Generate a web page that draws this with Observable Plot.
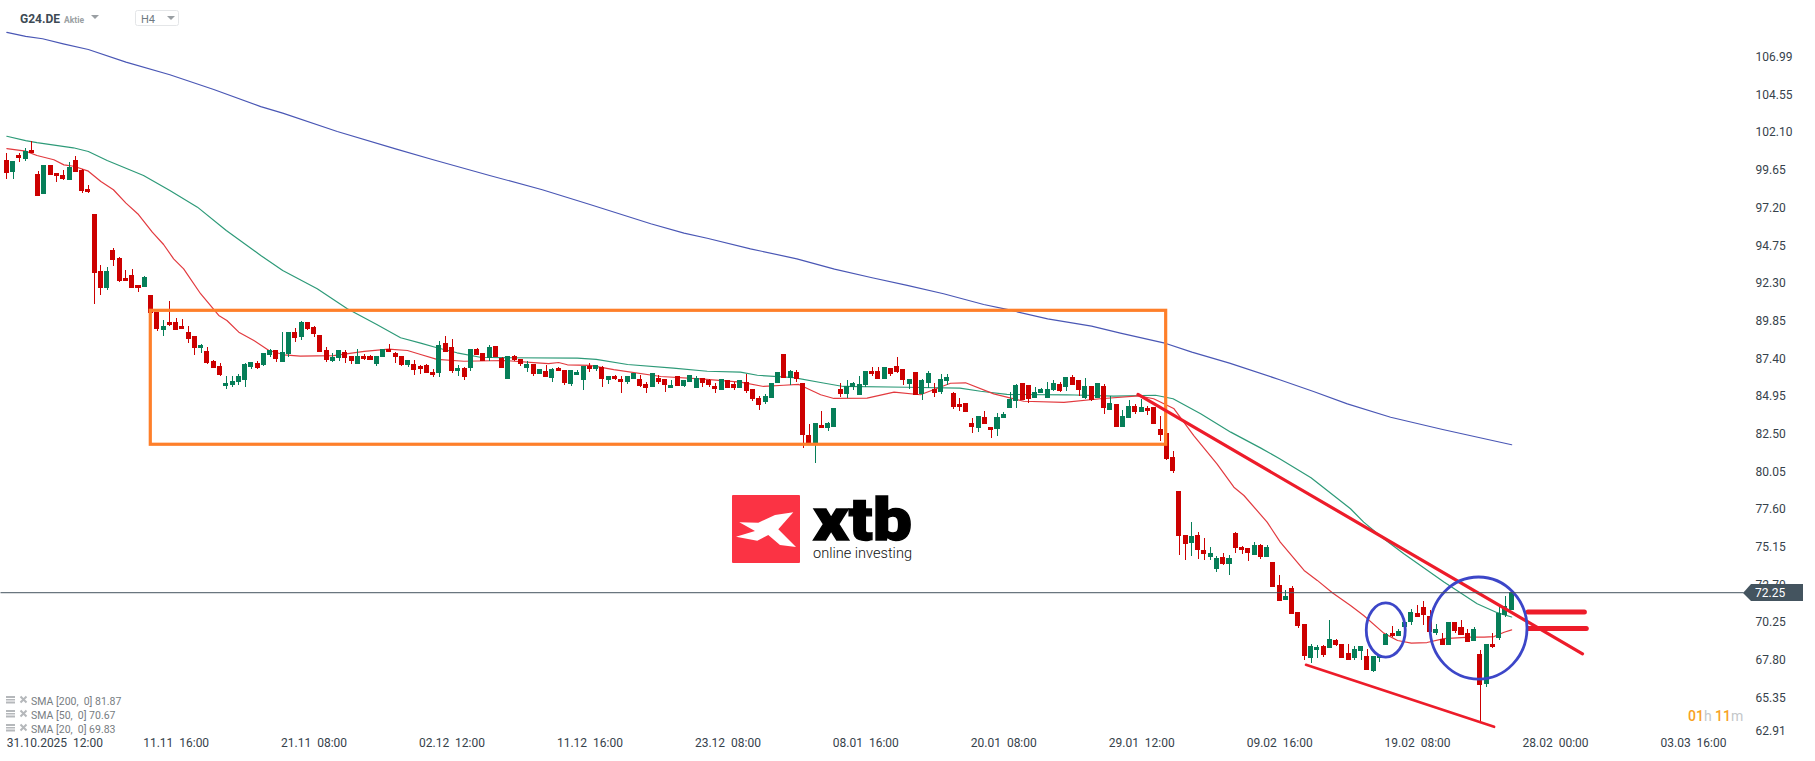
<!DOCTYPE html>
<html>
<head>
<meta charset="utf-8">
<script src="https://cdn.jsdelivr.net/npm/d3@7"></script>
<script src="https://cdn.jsdelivr.net/npm/@observablehq/plot@0.6"></script>
<style>
html,body{margin:0;padding:0;background:#fff}
#wrap{position:relative;width:1815px;height:761px;overflow:hidden;font-family:Roboto,sans-serif}
#wrap>svg{position:absolute;left:0;top:0;overflow:visible}
</style>
</head>
<body>
<div id="wrap"></div>
<script>
// 4-hour candles of G24.DE
const highs = [
100.79,100.29,100.79,101.11,101.61,99.64,100.03,100.03,99.51,99.68,
100.20,100.61,99.75,98.73,96.84,93.53,93.40,94.63,94.03,93.20,
93.27,92.23,92.81,91.58,90.49,89.95,91.19,90.08,90.02,89.56,
88.91,88.39,88.20,87.35,87.16,86.31,86.31,86.44,87.13,87.22,
87.29,87.81,88.04,88.00,89.17,89.17,89.41,89.89,89.82,89.56,
88.98,88.20,87.78,88.00,88.00,87.61,88.07,87.74,87.68,87.61,
88.07,88.39,87.87,87.61,87.35,87.35,87.03,87.09,86.76,88.58,
88.91,88.72,87.03,86.89,88.07,88.13,87.81,88.33,88.26,87.55,
87.61,87.68,87.42,87.29,87.09,86.76,87.03,86.83,86.89,86.70,
86.70,86.70,86.96,87.16,87.03,86.96,86.31,86.37,86.31,86.31,
86.50,86.37,85.92,86.50,86.37,86.11,86.05,86.31,86.05,86.37,
86.31,86.18,86.11,85.85,86.11,86.05,85.92,86.05,86.44,85.46,
85.01,85.14,85.85,86.57,87.74,86.70,86.70,85.85,83.19,83.25,
84.03,83.32,84.23,85.86,86.05,85.92,86.31,86.64,86.90,86.90,
86.90,86.83,87.55,86.77,86.12,86.57,86.12,86.64,85.86,86.44,
86.44,85.27,84.88,84.55,83.58,83.71,84.03,82.99,83.90,83.97,
85.27,85.79,85.86,85.73,85.60,85.53,85.92,86.05,85.92,86.25,
86.38,86.05,86.18,85.66,85.86,85.79,85.01,84.49,84.10,84.75,
84.49,84.82,84.36,84.30,83.71,82.60,81.43,78.83,75.97,76.82,
76.17,75.78,75.19,74.61,74.80,74.67,76.17,75.26,75.13,75.52,
75.39,75.32,74.22,73.37,72.40,72.66,70.97,70.19,68.89,68.82,
68.82,70.45,69.21,68.89,68.89,68.76,68.76,68.56,68.11,68.17,
69.58,70.06,69.86,70.34,71.16,71.42,71.68,71.10,70.19,69.60,
70.32,70.32,70.45,69.86,69.99,68.50,68.89,69.60,71.31,72.01,
72.27];
const opens = [
100.35,99.60,100.68,100.44,101.00,99.44,98.17,100.03,99.51,99.38,
99.08,100.35,99.70,98.47,96.84,93.14,92.05,94.50,93.98,92.68,
92.88,92.23,92.12,91.58,90.49,89.32,89.82,89.82,89.56,89.17,
88.91,88.15,87.94,87.29,86.96,85.66,85.73,85.92,86.07,86.90,
87.16,87.03,87.68,88.00,87.24,87.76,89.17,88.85,89.82,89.50,
88.98,88.00,87.29,87.48,87.87,87.61,87.11,87.61,87.61,87.09,
87.55,88.07,87.81,87.61,87.03,87.09,86.96,87.03,86.57,86.50,
88.45,88.20,86.63,86.83,86.83,88.07,87.81,87.48,88.26,87.48,
86.11,87.61,87.42,86.83,87.09,86.44,86.63,86.18,86.83,86.70,
85.79,86.37,86.05,86.96,86.76,86.89,86.05,86.31,86.11,85.92,
86.11,86.11,85.79,85.59,86.18,86.11,85.53,86.31,85.66,85.92,
85.53,86.18,86.05,85.66,85.40,86.05,85.79,85.53,85.92,85.46,
84.88,84.62,84.88,85.85,87.74,86.18,86.57,85.85,82.47,81.93,
83.12,82.93,82.99,85.47,85.14,85.60,85.08,85.73,86.64,86.64,
86.12,86.83,86.96,86.77,85.79,86.57,85.14,85.86,85.47,85.27,
85.99,85.21,84.49,84.55,83.25,82.93,83.64,82.99,82.86,83.58,
84.23,84.68,85.86,85.73,84.88,85.21,84.88,85.40,85.79,85.60,
86.25,86.05,84.88,85.66,84.88,85.66,84.10,84.49,82.99,83.58,
84.36,83.97,84.23,84.30,82.86,82.60,81.04,78.83,75.97,75.45,
75.97,75.00,74.54,73.76,74.54,74.09,76.10,75.19,75.13,74.67,
75.32,74.54,74.22,72.72,71.75,72.53,70.97,70.19,67.98,68.50,
68.76,68.63,69.15,68.89,68.30,67.98,68.43,68.11,67.13,67.98,
68.82,69.60,69.41,69.99,70.32,70.90,71.29,70.71,69.60,69.21,
68.82,70.32,69.99,69.60,69.08,68.24,66.28,68.89,69.28,70.77,
71.10];
const closes = [
99.53,100.29,100.48,100.96,100.81,98.04,100.03,99.40,99.31,99.12,
99.90,99.60,98.36,98.30,93.03,92.05,93.14,93.87,92.49,92.49,
92.05,92.05,92.75,90.43,89.39,89.56,89.63,89.32,89.39,88.74,
88.15,88.33,87.18,86.85,86.38,85.86,85.99,86.31,87.09,87.22,
86.83,87.81,88.00,87.42,87.87,89.17,88.78,89.82,89.37,89.04,
87.89,87.37,87.55,88.00,87.48,87.29,87.61,87.42,87.35,87.61,
88.07,87.87,87.55,87.03,87.35,86.70,86.77,86.50,86.37,88.33,
87.87,86.63,86.83,86.24,88.07,87.68,87.29,88.20,87.55,86.83,
87.61,87.35,87.09,87.09,86.44,86.76,86.24,86.76,86.63,85.85,
86.70,86.57,86.96,86.76,87.03,86.11,86.31,86.11,85.92,86.31,
86.50,85.66,85.53,86.50,85.92,85.72,85.72,85.66,86.05,86.37,
86.18,85.85,85.72,85.46,86.11,85.53,85.53,86.05,85.33,84.81,
84.42,85.01,85.85,86.57,86.18,86.63,86.11,82.47,81.93,83.25,
82.93,83.25,84.23,85.14,85.66,85.86,85.79,86.64,86.44,86.12,
86.90,86.44,86.57,86.05,86.12,85.08,86.05,86.51,85.21,86.12,
86.25,84.30,84.30,83.97,82.99,83.71,83.19,82.80,83.64,83.84,
84.82,85.73,84.75,84.82,85.27,85.47,85.47,85.86,85.34,86.25,
85.73,85.40,85.66,84.75,85.86,84.23,84.55,82.99,83.71,84.36,
83.97,84.30,84.03,83.19,82.47,80.91,80.13,75.91,75.39,75.91,
75.00,74.74,74.80,74.48,74.09,74.48,75.13,75.00,74.80,75.32,
74.54,75.19,72.59,71.68,72.01,70.84,70.06,68.11,68.76,68.69,
68.17,69.21,68.82,67.98,67.85,68.56,68.76,67.20,68.11,68.17,
69.54,69.41,69.73,70.34,70.97,70.64,70.77,69.67,69.86,68.82,
70.32,69.73,69.47,69.02,69.86,66.22,68.89,68.69,70.90,71.36,
72.25];
const lows = [
99.14,99.14,100.25,100.31,100.81,98.04,98.17,99.40,98.95,99.05,
99.08,99.60,98.23,98.23,91.01,91.60,91.92,93.48,92.44,92.49,
92.05,91.79,92.12,90.43,89.26,88.93,89.56,89.32,89.39,88.48,
87.70,87.83,87.11,86.85,86.33,85.49,85.62,85.73,85.62,86.79,
86.79,86.96,87.57,87.24,87.24,87.57,88.54,88.65,89.32,88.87,
87.89,87.24,87.24,87.31,87.18,87.09,87.11,87.35,87.35,86.96,
87.55,87.87,87.16,86.96,86.90,86.38,86.44,86.50,86.24,86.24,
87.87,86.50,86.31,86.05,86.63,87.68,87.29,87.29,87.55,86.83,
86.11,87.29,86.96,86.57,86.31,86.44,86.24,85.92,86.63,85.72,
85.66,86.37,85.40,86.57,86.63,85.59,85.79,86.05,85.20,85.79,
86.11,85.59,85.20,85.59,85.79,85.27,85.53,85.66,85.59,85.92,
85.53,85.59,85.59,85.20,85.40,85.53,85.40,85.53,85.20,84.68,
84.10,84.49,84.88,85.85,86.18,85.72,85.92,81.63,81.89,80.65,
82.93,82.73,82.99,84.95,84.88,85.40,85.08,85.60,86.31,86.12,
86.12,86.31,86.51,85.73,85.47,85.08,84.75,85.53,84.95,85.14,
85.73,84.17,84.03,83.97,82.60,82.67,83.19,82.28,82.41,83.58,
84.23,84.23,84.75,84.55,84.88,85.21,84.88,85.34,85.27,85.34,
85.73,85.01,84.82,84.68,84.88,83.84,84.10,82.99,82.99,83.58,
83.84,83.97,83.77,83.19,82.08,80.85,80.00,74.67,74.35,74.61,
74.41,74.35,74.35,73.57,74.02,73.37,74.80,74.74,74.28,74.67,
74.41,74.54,72.59,71.68,71.75,70.84,69.93,67.85,67.65,67.98,
68.04,68.63,68.76,67.98,67.85,67.85,67.85,67.20,67.07,67.72,
68.82,69.34,69.41,69.99,70.12,70.64,70.12,69.67,69.47,68.82,
68.82,69.60,69.47,69.02,69.08,63.86,66.09,68.63,69.15,70.64,
71.10];

// moving averages, sampled by eye along each curve (candle number, price)
const sma200Idx = [0,3,5.7,9,13,19,26,33,40.5,44,52.7,62,68,77,85.4,93,102.7,108,111.7,118.6,126,132,138,143.6,149.4,155.8,159.5,166,173,177.6,184.5,189,195,203,208.4,213.8,220.7,229,240];
const sma200 = [108.68,108.42,108.27,107.94,107.57,106.75,105.93,104.97,103.86,103.43,102.24,101.11,100.40,99.38,98.45,97.49,96.24,95.63,95.30,94.61,93.96,93.29,92.73,92.23,91.69,90.99,90.67,90.06,89.58,89.13,88.50,87.89,87.18,86.10,85.33,84.53,83.66,82.86,81.87];
const sma50Idx = [0,3,4.8,10.6,13,16,21.8,26,30.4,35,40.5,44,49.5,54.3,59,62.8,66,68.6,71.8,75.5,79.2,91,94,99,106.3,111.7,117,119.7,125.5,130,133.4,143.6,152,155.3,159.5,169,176.5,183.2,186,190.4,195.2,200,203,208,214.3,216.4,219.6,222.8,229.2,234.5,237.7,240];
const sma50 = [101.93,101.65,101.52,101.18,100.94,100.35,99.38,98.40,97.32,95.80,94.18,93.20,92.01,90.71,89.69,88.83,88.48,88.18,87.85,87.56,87.53,87.50,87.42,87.09,86.85,86.65,86.59,86.39,86.23,85.90,85.66,85.61,85.55,85.35,85.14,85.12,85.03,85.09,84.86,83.88,82.69,81.65,80.96,79.72,77.71,76.84,75.76,74.78,72.94,71.53,70.95,70.67];
const sma20Idx = [0,3,4.8,7.5,9.1,10.7,13,15,17,19,21,23.2,25,26.6,28.2,30.9,33.8,35.1,37,39.4,41.8,44.2,46.8,52.1,57,60.9,63.9,66,68.6,72.9,79.3,84.6,86.4,88,89.4,93,96.8,104.3,110.6,117,120.7,123.9,126.3,129.8,131.9,137.2,141.5,145.7,150.5,152.9,157.4,162.2,168.6,174.4,180.5,182.9,186.1,189.3,193,195.7,197.3,201,203.1,206.9,209,211.4,214.3,216.4,219.6,221.8,224,226.5,229.2,233.4,235.6,237.2,238.8,240];
const sma20 = [101.13,100.96,100.68,100.40,100.07,99.98,99.66,98.99,98.45,97.58,96.84,95.69,94.89,93.96,93.31,91.69,90.28,89.95,89.19,88.65,88.00,87.72,87.63,87.66,87.94,88.09,88.00,87.74,87.42,87.30,87.35,87.20,87.14,87.22,87.07,87.03,86.75,86.31,86.16,85.94,85.66,85.74,85.79,85.12,84.88,84.90,85.29,85.12,85.87,85.90,85.18,84.70,84.62,84.86,85.05,84.86,84.23,82.47,80.63,79.11,78.57,76.84,75.54,73.70,73.05,72.25,71.42,70.77,69.62,69.14,68.97,69.01,69.26,69.36,69.36,69.40,69.68,69.83];

// axes
const priceTicks = [106.99,104.55,102.10,99.65,97.20,94.75,92.30,89.85,87.40,84.95,82.50,80.05,77.60,75.15,72.70,70.25,67.80,65.35];
const lowestTick = [62.91];
const timeTickIdx = [27,49,71,93,115,137,159,181,203,225,247,269];
const timeTickLabels = ["11.11  16:00","21.11  08:00","02.12  12:00","11.12  16:00","23.12  08:00","08.01  16:00","20.01  08:00","29.01  12:00","09.02  16:00","19.02  08:00","28.02  00:00","03.03  16:00"];
const firstTickLabel = "31.10.2025  12:00";

// hand-drawn annotations
const boxI = [22.96,184.9], boxP = [81.87,90.58];
const resistance = [{i:180.4,p:85.14},{i:251.3,p:68.28}];
const support = [{i:207.2,p:67.56},{i:237.2,p:63.53}];
const levels = [{i1:242.6,i2:251.6,p:71.0},{i1:242.7,i2:251.9,p:69.92}];
const rings = [{i:220,p:69.79,ri:3.11,rp:1.76},{i:234.8,p:69.92,ri:7.73,rp:3.32}];
const lastPrice = 72.25;

const RED="#cc0000",GREEN="#067e58",ORANGE="#fe7f2a",TREND="#ed1c2a",RING="#3c46c8",SLATE="#44545f";
const candles = closes.map((c,i)=>({i,o:opens[i],c,h:highs[i],l:lows[i]}));
const color = d => d.c>=d.o ? GREEN : RED;
const pts = (xs,ys) => xs.map((x,k)=>({x,y:ys[k]}));

const ringMark = (index,scales) => {
  const g = d3.create("svg:g");
  for (const r of rings) {
    g.append("ellipse")
      .attr("cx",scales.x(r.i)).attr("cy",scales.y(r.p))
      .attr("rx",Math.abs(scales.x(r.i+r.ri)-scales.x(r.i)))
      .attr("ry",Math.abs(scales.y(r.p+r.rp)-scales.y(r.p)))
      .attr("fill","none").attr("stroke",RING).attr("stroke-width",2.8);
  }
  return g.node();
};

const chart = Plot.plot({
  width:1815, height:761,
  marginLeft:0, marginTop:0, marginRight:60, marginBottom:25,
  style:{background:"#fff",fontFamily:"Roboto, sans-serif",fontSize:"12px",overflow:"visible"},
  x:{domain:[-1.0096,278.89]},
  y:{domain:[62.90,110.757]},
  marks:[
    Plot.line(pts(sma200Idx,sma200),{x:"x",y:"y",stroke:"#4a57b5",strokeWidth:1.2,curve:"linear"}),
    Plot.line(pts(sma50Idx,sma50),{x:"x",y:"y",stroke:"#2d9a78",strokeWidth:1.2,curve:"linear"}),
    Plot.line(pts(sma20Idx,sma20),{x:"x",y:"y",stroke:"#e23a3f",strokeWidth:1.2,curve:"linear"}),
    Plot.ruleX(candles,{x:"i",y1:"l",y2:"h",stroke:color,strokeWidth:1,shapeRendering:"crispEdges"}),
    Plot.rect(candles,{x1:d=>d.i-0.4,x2:d=>d.i+0.4,y1:"o",y2:"c",fill:color,shapeRendering:"crispEdges"}),
    Plot.rect([{}],{x1:()=>boxI[0],x2:()=>boxI[1],y1:()=>boxP[0],y2:()=>boxP[1],fill:"none",stroke:ORANGE,strokeWidth:3.2}),
    Plot.line(resistance,{x:"i",y:"p",stroke:TREND,strokeWidth:3.2}),
    Plot.line(support,{x:"i",y:"p",stroke:TREND,strokeWidth:2.6}),
    Plot.link(levels,{x1:"i1",x2:"i2",y1:"p",y2:"p",stroke:TREND,strokeWidth:5,strokeLinecap:"round"}),
    ringMark,
    Plot.link([lastPrice],{x1:()=>-1.0096,x2:()=>277,y1:d=>d,y2:d=>d,stroke:SLATE,strokeWidth:1}),
    Plot.axisY({anchor:"right",ticks:priceTicks,tickSize:0,tickPadding:0,label:null,tickFormat:d=>d.toFixed(2),fill:"#36424b",dy:-1}),
    Plot.axisY({anchor:"right",ticks:lowestTick,tickSize:0,tickPadding:0,label:null,tickFormat:d=>d.toFixed(2),fill:"#36424b",dy:-5}),
    Plot.axisX({anchor:"bottom",ticks:timeTickIdx,tickSize:0,tickPadding:2,label:null,tickFormat:d=>timeTickLabels[timeTickIdx.indexOf(d)],fill:"#36424b"}),
    Plot.axisX({anchor:"bottom",ticks:[0],tickSize:0,tickPadding:2,label:null,tickFormat:()=>firstTickLabel,textAnchor:"start",fill:"#36424b"})
  ]
});
chart.querySelectorAll("text").forEach(t=>t.style.whiteSpace="pre");
const wrap=document.getElementById("wrap");
wrap.appendChild(chart);

// chrome drawn on top of the chart: logo, price flag, headers
const over=d3.select(wrap).append("svg").attr("width",1815).attr("height",761)
  .style("font-family","Roboto, sans-serif");
over.append("polygon").attr("points","1743,593 1751,584 1803,584 1803,601 1751,601").attr("fill",SLATE);
over.append("text").attr("x",1755).attr("y",597).attr("fill","#fff").attr("font-size",12).text(lastPrice.toFixed(2));
over.append("rect").attr("x",732).attr("y",495).attr("width",68).attr("height",68).attr("rx",1).attr("fill","#fb3344");
over.append("polygon").attr("points","793.3,512.3 775,515 758.3,522.7 739.3,522.3 755,531 736,536.7 757.3,540.7 768.3,535 780,545 796,547 778.3,529.3").attr("fill","#fff");
over.append("text").attr("x",813).attr("y",540).attr("font-size",60).attr("font-weight",900).attr("fill","#000").attr("stroke","#000").attr("stroke-width",1.3).attr("textLength",99).attr("lengthAdjust","spacingAndGlyphs").text("xtb");
over.append("text").attr("x",813).attr("y",558).attr("font-size",14).attr("font-weight",300).attr("fill","#111").attr("textLength",99).attr("lengthAdjust","spacingAndGlyphs").text("online investing");
// header
over.append("text").attr("x",20).attr("y",23).attr("font-size",12).attr("font-weight",700).attr("fill","#3d4a54").text("G24.DE");
over.append("text").attr("x",64).attr("y",23).attr("font-size",8.5).attr("font-weight",700).attr("fill","#9a9fa3").text("Aktie");
over.append("polygon").attr("points","91,15 99,15 95,19").attr("fill","#9a9fa3");
over.append("rect").attr("x",135.5).attr("y",10.5).attr("width",43).attr("height",15).attr("rx",2).attr("fill","#fff").attr("stroke","#e4e6e8");
over.append("text").attr("x",141).attr("y",23).attr("font-size",11).attr("fill","#6f7a82").text("H4");
over.append("polygon").attr("points","167,16 175,16 171,20").attr("fill","#9a9fa3");
// study legend
[["SMA [200,  0] 81.87",704.5],["SMA [50,  0] 70.67",718.5],["SMA [20,  0] 69.83",732.5]].forEach(([s,y])=>{
  const g=over.append("g").attr("fill","#b5b8bb");
  g.append("rect").attr("x",6).attr("y",y-8.5).attr("width",9).attr("height",2);
  g.append("rect").attr("x",6).attr("y",y-5.5).attr("width",9).attr("height",1.5);
  g.append("rect").attr("x",6).attr("y",y-3).attr("width",9).attr("height",2);
  over.append("path").attr("d",`M20.5 ${y-8}L26.5 ${y-2}M26.5 ${y-8}L20.5 ${y-2}`).attr("stroke","#b5b8bb").attr("stroke-width",2);
  over.append("text").attr("x",31).attr("y",y).attr("font-size",10.5).attr("fill","#777d82").style("white-space","pre").text(s);
});
// countdown
const cd=over.append("text").attr("x",1688).attr("y",721).attr("font-size",14).attr("font-weight",500);
cd.append("tspan").attr("fill","#f7a11f").text("01");
cd.append("tspan").attr("fill","#c4c7c9").attr("font-weight",400).text("h ");
cd.append("tspan").attr("fill","#f7a11f").text("11");
cd.append("tspan").attr("fill","#c4c7c9").attr("font-weight",400).text("m");
</script>
</body>
</html>
